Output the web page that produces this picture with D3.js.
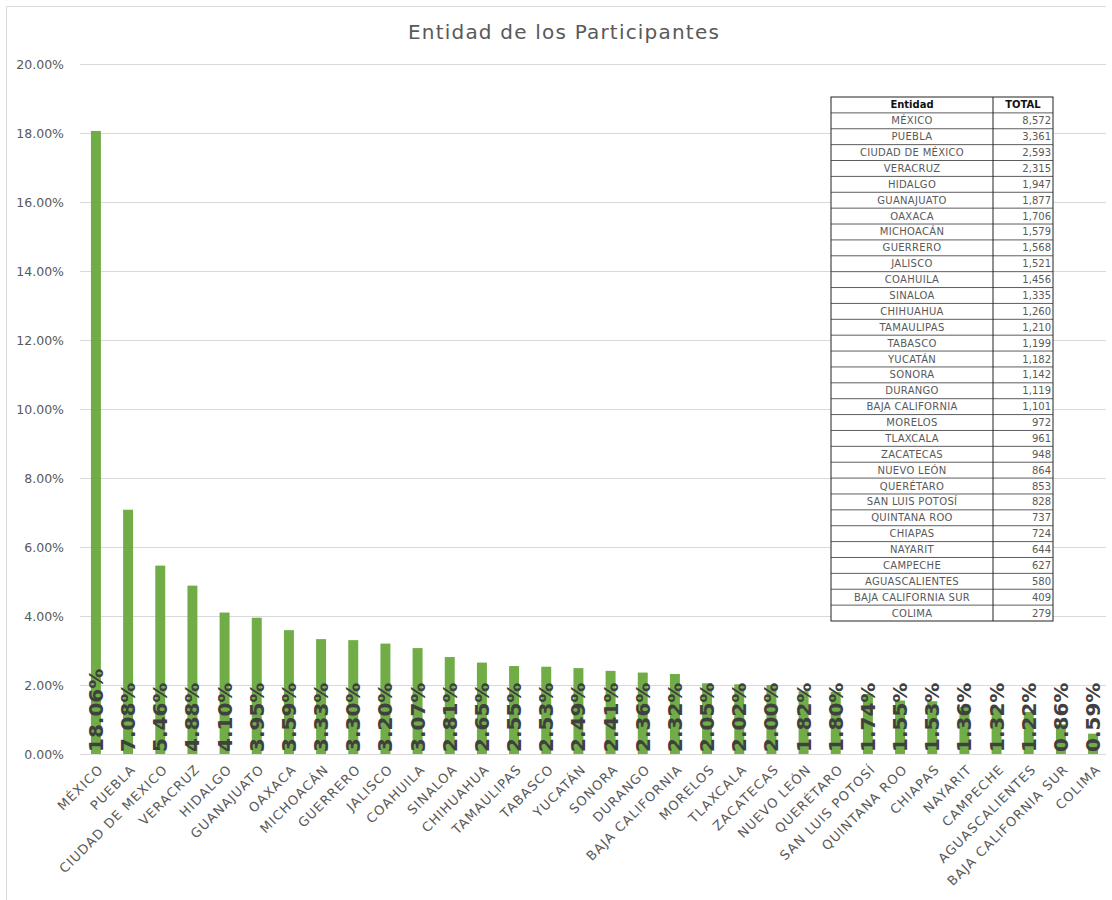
<!DOCTYPE html>
<html>
<head>
<meta charset="utf-8">
<script src="https://cdn.jsdelivr.net/npm/d3@7"></script>
<style>
  body { margin: 0; background: #fff; }
  svg { display: block; font-family: "DejaVu Sans", sans-serif; }
</style>
</head>
<body>
<div id="chart"></div>
<script>
const entidades = [
  "MÉXICO", "PUEBLA", "CIUDAD DE MEXICO", "VERACRUZ", "HIDALGO", "GUANAJUATO",
  "OAXACA", "MICHOACÁN", "GUERRERO", "JALISCO", "COAHUILA", "SINALOA",
  "CHIHUAHUA", "TAMAULIPAS", "TABASCO", "YUCATÁN", "SONORA", "DURANGO",
  "BAJA CALIFORNIA", "MORELOS", "TLAXCALA", "ZACATECAS", "NUEVO LEÓN",
  "QUERÉTARO", "SAN LUIS POTOSÍ", "QUINTANA ROO", "CHIAPAS", "NAYARIT",
  "CAMPECHE", "AGUASCALIENTES", "BAJA CALIFORNIA SUR", "COLIMA",
];
const porcentajes = [
  18.06, 7.08, 5.46, 4.88, 4.10, 3.95, 3.59, 3.33, 3.30, 3.20, 3.07, 2.81,
  2.65, 2.55, 2.53, 2.49, 2.41, 2.36, 2.32, 2.05, 2.02, 2.00, 1.82, 1.80,
  1.74, 1.55, 1.53, 1.36, 1.32, 1.22, 0.86, 0.59,
];
// table entity names (as written in the table)
const tablaEntidades = [
  "MÉXICO", "PUEBLA", "CIUDAD DE MÉXICO", "VERACRUZ", "HIDALGO", "GUANAJUATO",
  "OAXACA", "MICHOACÁN", "GUERRERO", "JALISCO", "COAHUILA", "SINALOA",
  "CHIHUAHUA", "TAMAULIPAS", "TABASCO", "YUCATÁN", "SONORA", "DURANGO",
  "BAJA CALIFORNIA", "MORELOS", "TLAXCALA", "ZACATECAS", "NUEVO LEÓN",
  "QUERÉTARO", "SAN LUIS POTOSÍ", "QUINTANA ROO", "CHIAPAS", "NAYARIT",
  "CAMPECHE", "AGUASCALIENTES", "BAJA CALIFORNIA SUR", "COLIMA",
];
const totales = [
  8572, 3361, 2593, 2315, 1947, 1877, 1706, 1579, 1568, 1521, 1456, 1335,
  1260, 1210, 1199, 1182, 1142, 1119, 1101, 972, 961, 948, 864, 853,
  828, 737, 724, 644, 627, 580, 409, 279,
];
const yTicks = [0, 2, 4, 6, 8, 10, 12, 14, 16, 18, 20];

const width = 1112, height = 900;
const plot = { left: 80, right: 1106, top: 64, bottom: 754 };
const GREY = "#595959";

const svg = d3.select("#chart").append("svg")
  .attr("width", width)
  .attr("height", height);

// chart frame (top and left edges visible)
svg.append("path")
  .attr("d", "M6.5,900 V6.5 H1106")
  .attr("fill", "none")
  .attr("stroke", "#d9d9d9");

svg.append("text")
  .attr("x", 564)
  .attr("y", 39)
  .attr("text-anchor", "middle")
  .style("font-size", "20px")
  .style("letter-spacing", "1.2px")
  .style("fill", GREY)
  .text("Entidad de los Participantes");

const x = d3.scaleBand()
  .domain(entidades)
  .range([plot.left, plot.right + 3])
  .paddingInner(0.69)
  .paddingOuter(0.34);

const y = d3.scaleLinear()
  .domain([0, 20])
  .range([plot.bottom, plot.top]);

// gridlines
svg.append("g")
  .selectAll("line")
  .data(yTicks)
  .join("line")
  .attr("x1", plot.left)
  .attr("x2", plot.right)
  .attr("y1", (d) => Math.round(y(d)) + 0.5)
  .attr("y2", (d) => Math.round(y(d)) + 0.5)
  .attr("stroke", "#d9d9d9");

// y axis labels
const yAxis = svg.append("g")
  .attr("transform", `translate(${plot.left - 16},0)`)
  .call(d3.axisLeft(y).tickValues(yTicks).tickSize(0).tickFormat((d) => d.toFixed(2) + "%"));
yAxis.select(".domain").remove();
yAxis.selectAll("text")
  .attr("x", 0)
  .attr("dy", "0.35em")
  .style("font-size", "12.5px")
  .style("font-family", "DejaVu Sans, sans-serif")
  .style("fill", GREY);

// bars
svg.append("g")
  .selectAll("rect")
  .data(entidades)
  .join("rect")
  .attr("x", (d) => x(d))
  .attr("width", x.bandwidth())
  .attr("y", (d, i) => y(porcentajes[i]))
  .attr("height", (d, i) => y(0) - y(porcentajes[i]))
  .attr("fill", "#70ad47");

// data labels (rotated, inside base)
svg.append("g")
  .selectAll("text")
  .data(entidades)
  .join("text")
  .attr("transform", (d) => `translate(${x(d) + x.bandwidth() / 2 + 7},${plot.bottom - 2}) rotate(-90)`)
  .attr("text-anchor", "start")
  .style("font-size", "20px")
  .style("font-weight", "bold")
  .style("fill", "#404040")
  .text((d, i) => porcentajes[i].toFixed(2) + "%");

// x axis labels
svg.append("g")
  .selectAll("text")
  .data(entidades)
  .join("text")
  .attr("transform", (d) => `translate(${x(d) + x.bandwidth() / 2 + 5},${plot.bottom + 13}) rotate(-45)`)
  .attr("text-anchor", "end")
  .attr("dy", "0.35em")
  .style("font-size", "13px")
  .style("letter-spacing", "1.1px")
  .style("fill", GREY)
  .text((d) => d);

// table
const tbl = { left: 831, mid: 993, right: 1053, top: 97, bottom: 621 };
const rows = ["__header__", ...tablaEntidades];
const ty = d3.scaleBand()
  .domain(d3.range(rows.length))
  .range([tbl.top, tbl.bottom]);

const table = svg.append("g");
table.append("rect")
  .attr("x", tbl.left)
  .attr("y", tbl.top)
  .attr("width", tbl.right - tbl.left)
  .attr("height", tbl.bottom - tbl.top)
  .attr("fill", "#fff")
  .attr("stroke", "#222");

table.selectAll("line.row")
  .data(d3.range(1, rows.length))
  .join("line")
  .attr("class", "row")
  .attr("x1", tbl.left)
  .attr("x2", tbl.right)
  .attr("y1", (d) => ty(d))
  .attr("y2", (d) => ty(d))
  .attr("stroke", "#333")
  .attr("stroke-width", 0.8);

table.append("line")
  .attr("x1", tbl.mid)
  .attr("x2", tbl.mid)
  .attr("y1", tbl.top)
  .attr("y2", tbl.bottom)
  .attr("stroke", "#222");

const rowMid = (i) => ty(i) + ty.bandwidth() / 2;

table.append("text")
  .attr("x", (tbl.left + tbl.mid) / 2)
  .attr("y", rowMid(0))
  .attr("dy", "0.35em")
  .attr("text-anchor", "middle")
  .style("font-size", "10px")
  .style("font-weight", "bold")
  .style("fill", "#111")
  .text("Entidad");

table.append("text")
  .attr("x", (tbl.mid + tbl.right) / 2)
  .attr("y", rowMid(0))
  .attr("dy", "0.35em")
  .attr("text-anchor", "middle")
  .style("font-size", "10px")
  .style("font-weight", "bold")
  .style("fill", "#111")
  .text("TOTAL");

table.selectAll("text.ent")
  .data(tablaEntidades)
  .join("text")
  .attr("class", "ent")
  .attr("x", (tbl.left + tbl.mid) / 2)
  .attr("y", (d, i) => rowMid(i + 1))
  .attr("dy", "0.35em")
  .attr("text-anchor", "middle")
  .style("font-size", "10px")
  .style("letter-spacing", "0.3px")
  .style("fill", GREY)
  .text((d) => d);

table.selectAll("text.tot")
  .data(totales)
  .join("text")
  .attr("class", "tot")
  .attr("x", tbl.right - 2)
  .attr("y", (d, i) => rowMid(i + 1))
  .attr("dy", "0.35em")
  .attr("text-anchor", "end")
  .style("font-size", "10px")
  .style("fill", GREY)
  .text((d) => d3.format(",")(d));
</script>
</body>
</html>
